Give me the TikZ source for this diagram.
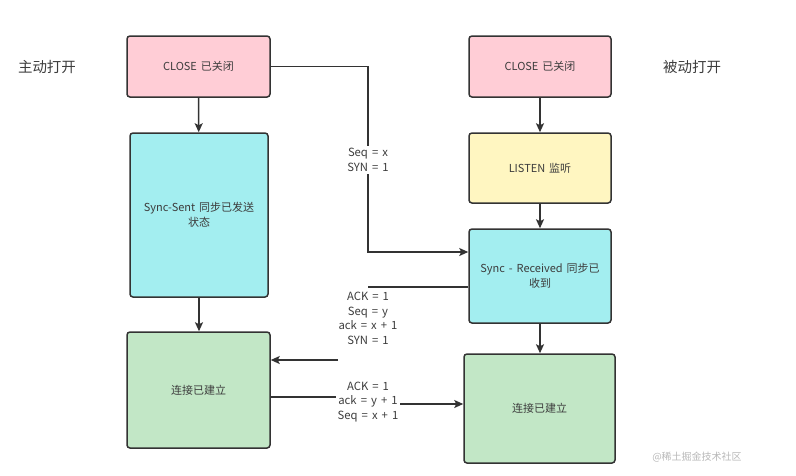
\documentclass[tikz,border=0pt]{standalone}
\usepackage{fontspec}
\setmainfont{Noto Sans CJK SC}[WordSpace=1.6]
\usetikzlibrary{arrows.meta}
\definecolor{ink}{HTML}{333333}
\definecolor{txt}{HTML}{3C3C3C}
\definecolor{pinkf}{HTML}{FFCDD6}
\definecolor{cyanf}{HTML}{A3EEF0}
\definecolor{yelf}{HTML}{FFF6C1}
\definecolor{grnf}{HTML}{C2E7C6}
\tikzset{
  box/.style={draw=ink, line width=1.5pt, rounded corners=3pt, align=center, text=txt,
    font=\fontsize{11}{14.5}\selectfont, inner sep=0pt},
  conn/.style={draw=ink, line width=1.6pt},
  arr/.style={conn, -{Stealth[length=9pt,width=8pt,inset=2pt]}},
  lbl/.style={fill=white, align=center, text=txt, font=\fontsize{11.3}{14.5}\selectfont, inner xsep=1.5pt, inner ysep=2pt},
  side/.style={text=txt, font=\fontsize{14.5}{16}\selectfont},
}
\begin{document}
\begin{tikzpicture}[x=1pt,y=-1pt]
\useasboundingbox (0,0) rectangle (796,475);
% left column
\node[box, fill=pinkf, minimum width=143, minimum height=61] (closeL) at (198.5,66.5) {CLOSE 已关闭};
\node[box, fill=cyanf, minimum width=138, minimum height=164] (sent) at (199,215) {Sync-Sent 同步已发送\\状态};
\node[box, fill=grnf, minimum width=143, minimum height=116] (estL) at (198.5,390) {连接已建立};
% right column
\node[box, fill=pinkf, minimum width=142, minimum height=61] (closeR) at (540,66.5) {CLOSE 已关闭};
\node[box, fill=yelf, minimum width=142, minimum height=70] (listen) at (540,168) {LISTEN 监听};
\node[box, fill=cyanf, minimum width=142, minimum height=94] (recv) at (540,276) {Sync - Received 同步已\\收到};
\node[box, fill=grnf, minimum width=151, minimum height=109] (estR) at (539.5,408.5) {连接已建立};
% side labels
\node[side] (actL) at (47,67) {主动打开};
\node[side] (pasR) at (692,67) {被动打开};
\node[text=black!28, font=\fontsize{10}{12}\selectfont] (wm) at (697,457) {@稀土掘金技术社区};
% vertical arrows
\draw[arr] (closeL) -- (sent);
\draw[arr] (sent) -- (estL.north -| sent.south);
\draw[arr] (closeR) -- (listen);
\draw[arr] (listen) -- (recv);
\draw[arr] (recv) -- (estR.north -| recv.south);
% SYN
\coordinate (c1) at (368,252);
\draw[arr] (closeL.east) -| (c1) -- (c1 -| recv.west);
\node[lbl] (l1) at (368,160) {Seq = x\\SYN = 1};
% SYN+ACK
\coordinate (a2) at (368,287);
\coordinate (b2) at (338,360);
\draw[conn] (a2 -| recv.west) -- (a2);
\draw[arr] (b2) -- (b2 -| estL.east);
\node[lbl] (l2) at (368,318.5) {ACK = 1\\Seq = y\\ack = x + 1\\SYN = 1};
% ACK
\coordinate (a3) at (368,397);
\coordinate (b3) at (368,404);
\draw[arr] (a3 -| estL.east) -- (a3) -- (b3) -- (b3 -| estR.west);
\node[lbl] (l3) at (368,402) {ACK = 1\\ack = y + 1\\Seq = x + 1};
\end{tikzpicture}
\end{document}
